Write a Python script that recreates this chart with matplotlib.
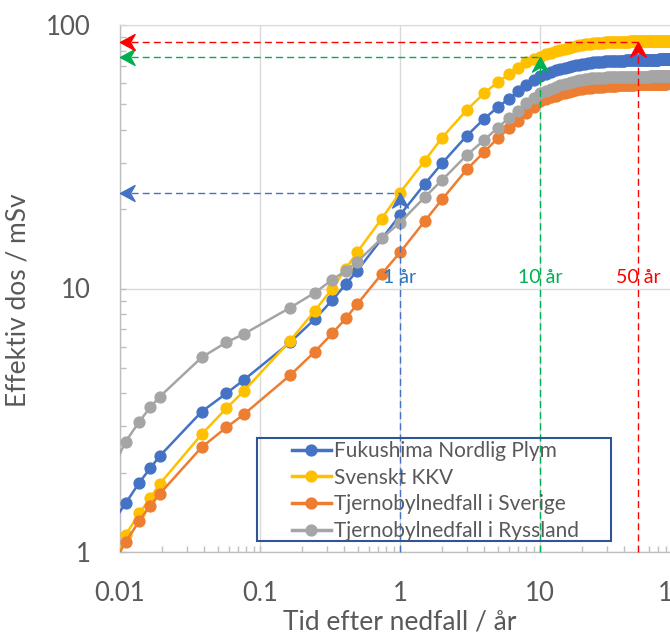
import numpy as np
import matplotlib
matplotlib.use("Agg")
import matplotlib.pyplot as plt
from matplotlib.path import Path
from matplotlib.patches import Rectangle
from matplotlib.ticker import FixedLocator, FixedFormatter, LogLocator, NullFormatter

plt.rcParams['font.family'] = ['Lato', 'DejaVu Sans']

# ---------------- data ----------------
series_names = ["Fukushima Nordlig Plym", "Svenskt KKV",
                "Tjernobylnedfall i Sverige", "Tjernobylnedfall i Ryssland"]
series_colors = ["#4472C4", "#FFC000", "#ED7D31", "#A5A5A5"]

days_full = [3, 4, 5, 6, 7, 14, 21, 28, 60, 90, 120, 150, 180, 270]
days_fuku = [3, 4, 5, 6, 7, 14, 21, 28, 60, 90, 120, 150, 180]
years_late = [1, 1.5, 2] + list(range(3, 101))

fuku_days = [1.22, 1.53, 1.83, 2.08, 2.31, 3.41, 4.00, 4.50, 6.25, 7.66, 9.04, 10.4, 11.65]
fuku_years = [19.0, 24.9, 29.9,
              38.0, 44.1, 48.8, 52.5, 56.0, 59.2, 61.8, 64.0,
              65.3, 66.4, 67.3, 68.1, 68.8, 69.4, 69.9, 70.4, 70.8, 71.1,
              71.4, 71.7, 71.9, 72.1, 72.3, 72.4, 72.5, 72.6, 72.7, 72.8,
              72.9, 73.0, 73.0, 73.1, 73.1, 73.2, 73.2, 73.3, 73.3, 73.3,
              73.4, 73.4, 73.4, 73.5, 73.5, 73.5, 73.5, 73.6, 73.6, 73.6,
              73.7, 73.7, 73.7, 73.7, 73.7, 73.8, 73.8, 73.8, 73.8, 73.8,
              73.8, 73.8, 73.9, 73.9, 73.9, 73.9, 73.9, 73.9, 73.9, 73.9,
              74.0, 74.0, 74.0, 74.0, 74.0, 74.0, 74.0, 74.0, 74.0, 74.0,
              74.0, 74.0, 74.0, 74.0, 74.0, 74.1, 74.1, 74.1, 74.1, 74.1,
              74.1, 74.1, 74.1, 74.1, 74.1, 74.1, 74.1, 74.1, 74.1, 74.1]

kkv_days = [0.73, 1.16, 1.40, 1.60, 1.81, 2.80, 3.51, 4.08, 6.34, 8.24, 10.0, 11.9, 13.7, 18.4]
kkv_years = [23.1, 30.5, 37.4,
             47.6, 55.2, 60.7, 65.1, 68.7, 72.1, 74.5, 75.8,
             77.3, 78.6, 79.7, 80.6, 81.4, 82.1, 82.7, 83.2, 83.7, 84.1,
             84.4, 84.7, 85.0, 85.2, 85.4, 85.6, 85.7, 85.8, 85.9, 86.0,
             86.1, 86.2, 86.2, 86.3, 86.3, 86.4, 86.4, 86.4, 86.5, 86.5,
             86.5, 86.5, 86.5, 86.6, 86.6, 86.6, 86.6, 86.6, 86.6, 86.6,
             86.7, 86.7, 86.7, 86.7, 86.7, 86.7, 86.7, 86.7, 86.7, 86.7,
             86.7, 86.7, 86.7, 86.7, 86.7, 86.7, 86.7, 86.7, 86.7, 86.7,
             86.7, 86.7, 86.7, 86.7, 86.7, 86.8, 86.8, 86.8, 86.8, 86.8,
             86.8, 86.8, 86.8, 86.8, 86.8, 86.8, 86.8, 86.8, 86.8, 86.8,
             86.8, 86.8, 86.8, 86.8, 86.8, 86.8, 86.8, 86.8, 86.8, 86.8]

swe_days = [0.83, 1.09, 1.31, 1.50, 1.66, 2.50, 2.97, 3.33, 4.69, 5.76, 6.76, 7.71, 8.70, 11.35]
swe_years = [13.7, 18.0, 21.8,
             28.3, 33.0, 37.2, 40.5, 43.3, 46.2, 49.0, 51.3,
             52.3, 53.2, 54.0, 54.7, 55.3, 55.8, 56.2, 56.6, 57.0, 57.3,
             57.5, 57.7, 57.9, 58.0, 58.1, 58.2, 58.3, 58.4, 58.5, 58.6,
             58.7, 58.8, 58.8, 58.9, 58.9, 59.0, 59.0, 59.1, 59.1, 59.2,
             59.2, 59.3, 59.3, 59.3, 59.4, 59.4, 59.4, 59.5, 59.5, 59.5,
             59.6, 59.6, 59.6, 59.6, 59.7, 59.7, 59.7, 59.7, 59.7, 59.7,
             59.8, 59.8, 59.8, 59.8, 59.8, 59.8, 59.8, 59.8, 59.8, 59.8,
             59.9, 59.9, 59.9, 59.9, 59.9, 59.9, 59.9, 59.9, 59.9, 59.9,
             60.0, 60.0, 60.0, 60.0, 60.0, 60.0, 60.0, 60.0, 60.0, 60.0,
             60.0, 60.0, 60.0, 60.0, 60.0, 60.1, 60.1, 60.1, 60.1, 60.1]

rus_days = [1.91, 2.62, 3.12, 3.54, 3.88, 5.48, 6.25, 6.72, 8.46, 9.64, 10.8, 11.7, 12.6, 15.5]
rus_years = [17.8, 22.2, 25.8,
             32.1, 36.6, 40.8, 44.4, 47.2, 50.5, 53.0, 55.0,
             56.3, 57.4, 58.3, 59.1, 59.8, 60.4, 60.9, 61.3, 61.7, 62.0,
             62.3, 62.5, 62.7, 62.8, 62.9, 63.0, 63.1, 63.2, 63.2, 63.3,
             63.3, 63.4, 63.4, 63.4, 63.5, 63.5, 63.5, 63.5, 63.6, 63.6,
             63.6, 63.6, 63.6, 63.6, 63.6, 63.7, 63.7, 63.7, 63.7, 63.7,
             63.7, 63.7, 63.7, 63.7, 63.7, 63.7, 63.7, 63.7, 63.7, 63.7,
             63.8, 63.8, 63.8, 63.8, 63.8, 63.8, 63.8, 63.8, 63.8, 63.8,
             63.8, 63.8, 63.8, 63.8, 63.8, 63.9, 63.9, 63.9, 63.9, 63.9,
             63.9, 63.9, 63.9, 63.9, 63.9, 63.9, 63.9, 63.9, 63.9, 63.9,
             64.0, 64.0, 64.0, 64.0, 64.0, 64.0, 64.0, 64.0, 64.0, 64.0]

ref_times = [1, 10, 50]
ref_levels = [23.1, 75.5, 86.4]
ref_colors = ["#4472C4", "#00B050", "#FF0000"]
ref_labels = ["1 år", "10 år", "50 år"]
ref_label_colors = ["#2E75B6", "#00B050", "#FF0000"]
ref_label_y = 11.0

x_ticks = [0.01, 0.1, 1, 10, 100]
x_ticklabels = ["0.01", "0.1", "1", "10", "100"]
y_ticks = [1, 10, 100]
y_ticklabels = ["1", "10", "100"]
xlim = (0.01, 100)
ylim = (1, 100)

# ---------------- figure ----------------
W, H = 670, 635
fig = plt.figure(figsize=(W / 100, H / 100), dpi=100)
ax = fig.add_axes([120 / W, (H - 552) / H, 560 / W, 527 / H])
ax.set_xscale("log")
ax.set_yscale("log")
ax.set_xlim(*xlim)
ax.set_ylim(*ylim)

grid_c = "#D9D9D9"
ax.grid(True, which="major", color=grid_c, lw=1.0, zorder=0)
ax.set_axisbelow(True)
for s in ["left", "bottom"]:
    ax.spines[s].set_color("#BFBFBF")
    ax.spines[s].set_linewidth(1.0)
ax.spines["top"].set_color(grid_c)
ax.spines["right"].set_visible(False)

ax.xaxis.set_major_locator(FixedLocator(x_ticks))
ax.xaxis.set_major_formatter(FixedFormatter(x_ticklabels))
ax.yaxis.set_major_locator(FixedLocator(y_ticks))
ax.yaxis.set_major_formatter(FixedFormatter(y_ticklabels))
ax.xaxis.set_minor_locator(LogLocator(base=10, subs=np.arange(2, 10)))
ax.yaxis.set_minor_locator(LogLocator(base=10, subs=np.arange(2, 10)))
ax.xaxis.set_minor_formatter(NullFormatter())
ax.yaxis.set_minor_formatter(NullFormatter())
ax.tick_params(which="both", direction="in", color="#BFBFBF", length=4, width=1)
ax.tick_params(which="major", labelsize=18.5, labelcolor="#595959")
ax.tick_params(axis="x", which="major", pad=21)
ax.tick_params(axis="y", which="major", pad=21)

series = [
    (np.array(days_fuku) / 365.0, fuku_days, fuku_years),
    (np.array(days_full) / 365.0, kkv_days, kkv_years),
    (np.array(days_full) / 365.0, swe_days, swe_years),
    (np.array(days_full) / 365.0, rus_days, rus_years),
]
for (t_early, v_early, v_late), name, col in zip(series, series_names, series_colors):
    t = np.concatenate([t_early, np.array(years_late, dtype=float)])
    v = np.concatenate([np.array(v_early), np.array(v_late)])
    ax.plot(t, v, color=col, lw=1.8, marker="o", ms=7.8, mec=col, mfc=col,
            label=name, zorder=3, clip_on=True)

# stealth arrowheads
up_arrow = Path([(0, 0), (0.6, -1.1), (0, -0.75), (-0.6, -1.1), (0, 0)],
                [Path.MOVETO, Path.LINETO, Path.LINETO, Path.LINETO, Path.CLOSEPOLY])
left_arrow = Path([(0, 0), (1.1, 0.6), (0.75, 0), (1.1, -0.6), (0, 0)],
                  [Path.MOVETO, Path.LINETO, Path.LINETO, Path.LINETO, Path.CLOSEPOLY])

for t, lev, c, lab, lc in zip(ref_times, ref_levels, ref_colors, ref_labels, ref_label_colors):
    ax.plot([t, t], [ylim[0], lev], color=c, lw=1.0, ls=(0, (5, 3)), zorder=5, clip_on=False)
    ax.plot([xlim[0], t], [lev, lev], color=c, lw=1.0, ls=(0, (5, 3)), zorder=5, clip_on=False)
    ax.plot([t], [lev], marker=up_arrow, ms=21, color=c, mec=c, ls="none", zorder=6, clip_on=False)
    ax.plot([xlim[0]], [lev], marker=left_arrow, ms=21, color=c, mec=c, ls="none", zorder=6, clip_on=False)
    ax.text(t, ref_label_y, lab, color=lc, fontsize=14, ha="center", va="center", zorder=6)

# legend with manual frame
ax.add_patch(Rectangle((0.2446, 0.0209), 0.8768 - 0.2446, 0.2163 - 0.0209,
                       transform=ax.transAxes, fill=False, edgecolor="#2F5597",
                       lw=1.5, zorder=7))
leg = ax.legend(loc="upper left", bbox_to_anchor=(0.3071, 0.2105), frameon=False,
                borderpad=0, borderaxespad=0, handlelength=1.85, handletextpad=0.15,
                labelspacing=0.32, fontsize=15, labelcolor="#595959", markerscale=1.0)
leg.set_zorder(8)
for h in leg.get_lines():
    h.set_linewidth(2.5)

fig.text(18 / W, 1 - 300 / H, "Effektiv dos / mSv", rotation=90, ha="center", va="center",
         fontsize=19, color="#595959")
fig.text(400 / W, 1 - 622 / H, "Tid efter nedfall / år", ha="center", va="center",
         fontsize=19, color="#595959")

fig.savefig("out.png", dpi=100)
